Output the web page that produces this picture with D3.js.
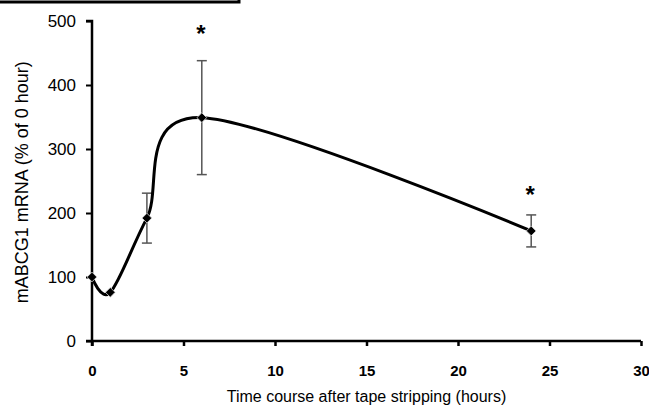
<!DOCTYPE html>
<html><head><meta charset="utf-8">
<script src="https://cdn.jsdelivr.net/npm/d3@7"></script>
<style>body{margin:0;background:#fff}svg{display:block}</style>
</head><body>
<script>
const hours = [0, 1, 3, 6, 24];
const mRNA = [100, 76, 192, 349, 172];
const sem = [0, 0, 39, 89, 25];
const starLevel = [null, null, null, 483, 231];
const xTicks = [0, 5, 10, 15, 20, 25, 30];
const yTicks = [0, 100, 200, 300, 400, 500];
const xTitle = "Time course after tape stripping (hours)";
const yTitle = "mABCG1 mRNA (% of 0 hour)";

const W = 649, H = 414;
const FONT = "Liberation Sans, Arial, sans-serif";
const svg = d3.select("body").append("svg").attr("width", W).attr("height", H);

const x = d3.scaleLinear().domain([0, 30]).range([92, 641]);
const y = d3.scaleLinear().domain([0, 500]).range([341, 21]);

// cropped frame at top-left
svg.append("path").attr("d", "M0,2 H239 V-2").attr("fill", "none")
  .attr("stroke", "#000").attr("stroke-width", 3);

// axes
const yAxis = svg.append("g").attr("transform", `translate(${x(0)},0)`)
  .call(d3.axisLeft(y).tickValues(yTicks).tickSize(6).tickPadding(10));
yAxis.select(".domain").attr("stroke-width", 2.5).attr("d", `M-6,${y(500)}H0V${y(0) + 5}`);
yAxis.selectAll(".tick line").attr("stroke-width", 2);
yAxis.selectAll("text").attr("font-family", FONT)
  .attr("font-size", 17).attr("fill", "#000");

const xAxis = svg.append("g").attr("transform", `translate(0,${y(0)})`)
  .call(d3.axisBottom(x).tickValues(xTicks).tickSize(5).tickPadding(19));
xAxis.select(".domain").attr("stroke-width", 2.5).attr("d", `M${x(0) - 6},0H${x(30)}`);
xAxis.selectAll(".tick line").attr("stroke-width", 2.5);
xAxis.selectAll("text").attr("font-family", FONT)
  .attr("font-weight", "bold").attr("font-size", 15).attr("fill", "#000");

// titles
svg.append("text").attr("x", (x(0) + x(30)) / 2).attr("y", 402)
  .attr("text-anchor", "middle").attr("font-family", FONT)
  .attr("font-size", 16).text(xTitle);
svg.append("text").attr("transform", `translate(28,${y(248)}) rotate(-90)`)
  .attr("text-anchor", "middle").attr("font-family", FONT)
  .attr("font-size", 18).text(yTitle);

const data = hours.map((h, i) => ({h, v: mRNA[i], e: sem[i], s: starLevel[i]}));

// error bars
const eb = svg.append("g").attr("stroke", "#555").attr("stroke-width", 1.5);
data.filter(d => d.e > 0).forEach(d => {
  eb.append("line").attr("x1", x(d.h)).attr("x2", x(d.h)).attr("y1", y(d.v - d.e)).attr("y2", y(d.v + d.e));
  [d.v - d.e, d.v + d.e].forEach(v => eb.append("line")
    .attr("x1", x(d.h) - 5).attr("x2", x(d.h) + 5).attr("y1", y(v)).attr("y2", y(v)));
});

// smooth line
const line = d3.line().x(d => x(d.h)).y(d => y(d.v)).curve(d3.curveCardinal.tension(0));
svg.append("path").datum(data).attr("d", line).attr("fill", "none")
  .attr("stroke", "#000").attr("stroke-width", 3);

// markers
svg.append("g").selectAll("path").data(data).join("path")
  .attr("transform", d => `translate(${x(d.h)},${y(d.v)})`)
  .attr("d", d3.symbol(d3.symbolDiamond2, 60))
  .attr("fill", "#000").attr("stroke", "#ddd").attr("stroke-width", 0.8);

// significance stars
svg.append("g").selectAll("text").data(data.filter(d => d.s != null)).join("text")
  .attr("x", d => x(d.h) - 1).attr("y", d => y(d.s) + 10)
  .attr("text-anchor", "middle").attr("font-family", FONT)
  .attr("font-weight", "bold").attr("font-size", 24).text("*");
</script>
</body></html>
